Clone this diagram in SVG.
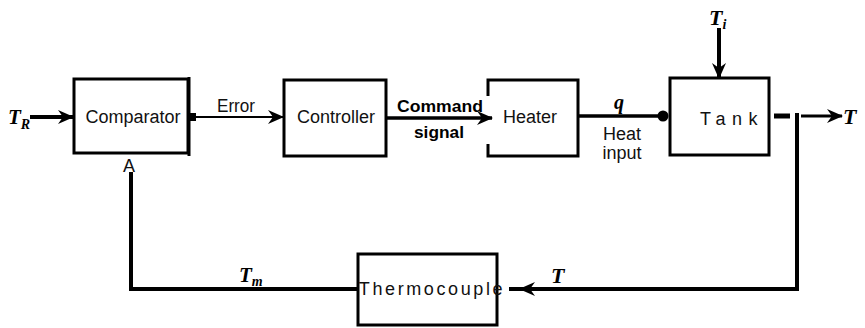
<svg xmlns="http://www.w3.org/2000/svg" width="865" height="328" viewBox="0 0 865 328">
<style>
.box{fill:#fff;stroke:#000;stroke-width:3}
.lbl{font-family:"Liberation Sans",Arial,sans-serif;font-size:18px;fill:#111;text-anchor:middle}
.math{font-family:"Liberation Serif","Times New Roman",serif;font-weight:bold;font-style:italic;fill:#000}
.ln{fill:none;stroke:#000}
</style>
<defs>
<marker id="ahb" markerWidth="16" markerHeight="14" refX="15" refY="7" orient="auto" markerUnits="userSpaceOnUse" viewBox="0 0 16 14">
<path d="M0,0 L16,7 L0,14 L5,7 Z" fill="#000"/>
</marker>
</defs>
<rect width="865" height="328" fill="#fff"/>

<g id="comparator">
<rect class="box" x="74" y="79" width="114" height="74"/>
<line class="ln" x1="189" y1="77" x2="189" y2="156" stroke-width="3"/>
<text class="lbl" x="133" y="123">Comparator</text>
</g>

<g id="controller">
<rect class="box" x="284" y="80" width="102" height="76"/>
<text class="lbl" x="336" y="123">Controller</text>
</g>

<g id="heater">
<path class="ln" stroke-width="3" d="M488,96 L488,80 L578,80 L578,156 L488,156 L488,144"/>
<text class="lbl" x="530" y="123">Heater</text>
</g>

<g id="tank">
<rect class="box" x="670" y="78" width="99" height="77"/>
<text class="lbl" x="732" y="125" letter-spacing="6.5">Tank</text>
</g>

<g id="thermocouple">
<rect class="box" x="358" y="254" width="139" height="71"/>
<text class="lbl" x="432" y="295" font-size="17" letter-spacing="2.6">Thermocouple</text>
</g>

<g id="connectors">
<line class="ln" x1="30" y1="117" x2="73" y2="117" stroke-width="4" marker-end="url(#ahb)"/>
<rect x="189" y="113" width="7" height="8" fill="#000"/>
<line class="ln" x1="196" y1="117" x2="283" y2="117" stroke-width="2" marker-end="url(#ahb)"/>
<line class="ln" x1="387" y1="118" x2="492" y2="118" stroke-width="3.5" marker-end="url(#ahb)"/>
<line class="ln" x1="579" y1="116" x2="662" y2="116" stroke-width="3.5"/>
<circle cx="663" cy="116" r="5.5" fill="#000"/>
<line class="ln" x1="719" y1="28" x2="719" y2="78" stroke-width="4" marker-end="url(#ahb)"/>
<line class="ln" x1="774" y1="116" x2="790" y2="116" stroke-width="5"/>
<line class="ln" x1="801" y1="116" x2="842" y2="116" stroke-width="3" marker-end="url(#ahb)"/>
<path class="ln" stroke-width="4" d="M797,113 L797,289 L520,289" marker-end="url(#ahb)"/>
<line class="ln" x1="509" y1="289" x2="520" y2="289" stroke-width="4"/>
<path class="ln" stroke-width="4" d="M357,289 L131,289 L131,172"/>
</g>

<g id="labels">
<text class="math" x="8" y="124" font-size="21">T<tspan font-size="14" dy="5">R</tspan></text>
<text class="lbl" x="236" y="112" font-size="15" textLength="38" lengthAdjust="spacingAndGlyphs">Error</text>
<text class="lbl" x="129" y="172" font-size="16">A</text>
<text x="440" y="112" font-family="Liberation Sans,Arial,sans-serif" font-weight="bold" font-size="17" text-anchor="middle" textLength="86" lengthAdjust="spacingAndGlyphs">Command</text>
<text x="439" y="138" font-family="Liberation Sans,Arial,sans-serif" font-weight="bold" font-size="17" text-anchor="middle" textLength="50" lengthAdjust="spacingAndGlyphs">signal</text>
<text class="math" x="614" y="109" font-size="20">q</text>
<text class="lbl" x="622" y="140" font-size="17">Heat</text>
<text class="lbl" x="622" y="159" font-size="17">input</text>
<text class="math" x="709" y="25" font-size="22">T<tspan font-size="14" dy="4">i</tspan></text>
<text class="math" x="843" y="124" font-size="22">T</text>
<text class="math" x="239" y="282" font-size="21">T<tspan font-size="14" dy="4">m</tspan></text>
<text class="math" x="551" y="283" font-size="22">T</text>
</g>
</svg>
